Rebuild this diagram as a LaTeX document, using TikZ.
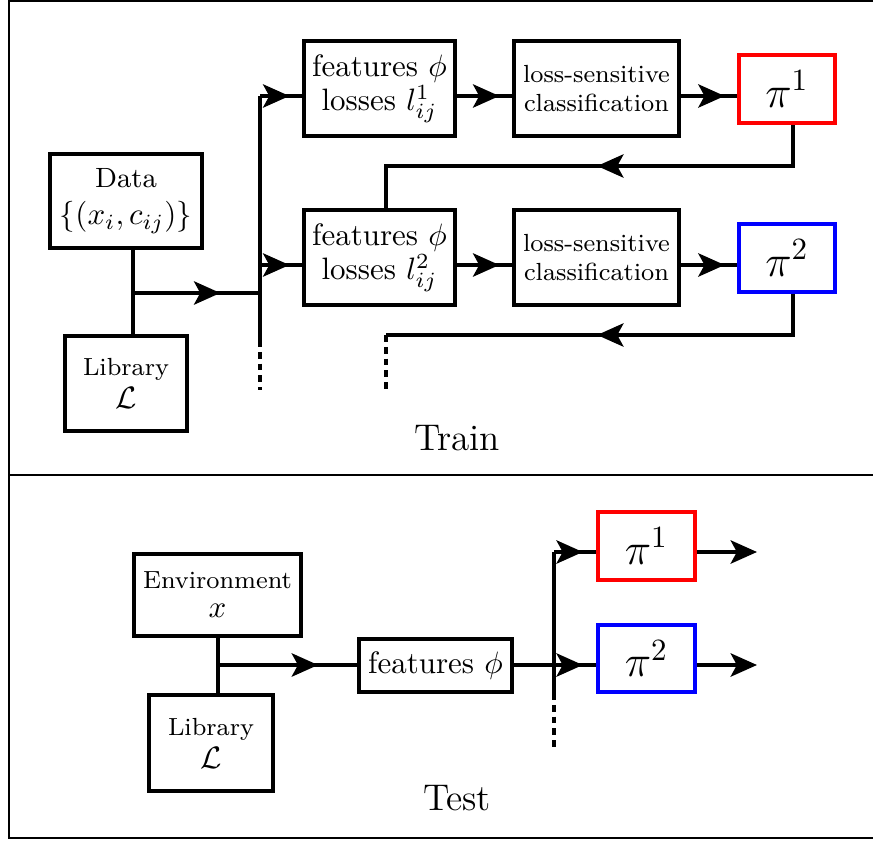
\documentclass[tikz,border=0pt]{standalone}
\usepackage{amsmath}
\usetikzlibrary{arrows.meta, decorations.markings}
\tikzset{
  blk/.style={draw, line width=1.3pt, align=center, inner sep=0pt},
  wire/.style={line width=1.3pt},
  midarr/.style={postaction={decorate}, decoration={markings,
      mark=at position #1 with {\arrow{Stealth[length=8.5pt, width=7.5pt, inset=2pt]}}}},
  endarr/.style={-{Stealth[length=8.5pt, width=7.5pt, inset=2pt]}},
  dashbus/.style={line width=1.3pt, dash pattern=on 2.2pt off 1.6pt},
}

\begin{document}
\begin{tikzpicture}[x=0.01136cm, y=-0.01136cm]
\clip (0,0) rectangle (873,844);
% frame
\draw[line width=0.8pt] (9,1) rectangle (900,838);
\draw[line width=0.8pt] (9,475) -- (900,475);

% train
\node[blk, minimum width=1.73cm, minimum height=1.07cm] (data) at (126,201)
  {{\small Data}\\ $\{(x_i,c_{ij})\}$};
\node[blk, minimum width=1.39cm, minimum height=1.08cm] (lib) at (126,383.5)
  {{\footnotesize Library}\\[-1.3pt] $\mathcal{L}$};
\node[blk, minimum width=1.72cm, minimum height=1.08cm] (feat1) at (379.5,88.5)
  {features $\phi$\\[-1pt] losses $l^1_{ij}$};
\node[blk, minimum width=1.72cm, minimum height=1.08cm] (feat2) at (379.5,257.5)
  {features $\phi$\\[-1pt] losses $l^2_{ij}$};
\node[blk, minimum width=1.88cm, minimum height=1.08cm, font=\footnotesize] (cls1) at (596.5,88.5)
  {loss-sensitive\\ classification};
\node[blk, minimum width=1.88cm, minimum height=1.08cm, font=\footnotesize] (cls2) at (596.5,257.5)
  {loss-sensitive\\ classification};
\node[blk, draw=red, minimum width=1.09cm, minimum height=0.77cm, font=\Large] (pol1) at (787,89) {$\pi^1$};
\node[blk, draw=blue, minimum width=1.09cm, minimum height=0.77cm, font=\Large] (pol2) at (787,258) {$\pi^2$};
\node[font=\large] (train) at (457,438) {Train};

\coordinate (jn) at (133,293);
\coordinate (bus1) at (260,96);
\coordinate (bus2) at (260,265);
\coordinate (busend) at (260,340);
\coordinate (busdash) at (260,390);
\coordinate (fb1) at (793,166);
\coordinate (fb1b) at (386,166);
\coordinate (fb2) at (793,335);
\coordinate (fb2b) at (386,335);
\coordinate (fbdash) at (386,390);

\draw[wire] (data.south -| jn) -- (lib.north -| jn);
\draw[wire, midarr=-0.45cm] (jn) -- (jn -| bus1);
\draw[wire] (bus1) -- (busend);
\draw[dashbus] (busend) -- (busdash);
\draw[wire, midarr=-0.14cm] (bus1) -- (feat1.west |- bus1);
\draw[wire, midarr=-0.14cm] (bus2) -- (feat2.west |- bus2);
\draw[wire, midarr=-0.14cm] (feat1.east |- bus1) -- (cls1.west |- bus1);
\draw[wire, midarr=-0.14cm] (feat2.east |- bus2) -- (cls2.west |- bus2);
\draw[wire, midarr=-0.14cm] (cls1.east |- bus1) -- (pol1.west |- bus1);
\draw[wire, midarr=-0.14cm] (cls2.east |- bus2) -- (pol2.west |- bus2);
% feedback
\draw[wire, midarr=2.69cm] (pol1.south -| fb1) -- (fb1) -- (fb1b) -- (fb1b |- feat2.north);
\draw[wire, midarr=2.69cm] (pol2.south -| fb2) -- (fb2) -- (fb2b);
\draw[dashbus] (fb2b) -- (fbdash);

% test
\node[blk, minimum width=1.90cm, minimum height=0.93cm] (env) at (217.5,595)
  {{\footnotesize Environment}\\[-2.6pt] $x$};
\node[blk, minimum width=1.41cm, minimum height=1.09cm] (libt) at (211,743)
  {{\footnotesize Library}\\[-1.3pt] $\mathcal{L}$};
\node[blk, minimum width=1.74cm, minimum height=0.60cm] (featt) at (435.5,665.5) {features $\phi$};
\node[blk, draw=red, minimum width=1.10cm, minimum height=0.77cm, font=\Large] (polt1) at (646.5,546) {$\pi^1$};
\node[blk, draw=blue, minimum width=1.10cm, minimum height=0.77cm, font=\Large] (polt2) at (646.5,658.5) {$\pi^2$};
\node[font=\large] (test) at (457,798) {Test};

\coordinate (jt) at (218,665);
\coordinate (tbus1) at (554,552);
\coordinate (tbusend) at (554,693);
\coordinate (tbusdash) at (554,750);
\coordinate (out1) at (757,552);
\coordinate (out2) at (757,665);

\draw[wire] (env.south -| jt) -- (libt.north -| jt);
\draw[wire, midarr=-0.44cm] (jt) -- (featt.west |- jt);
\draw[wire, midarr=-0.15cm] (featt.east |- jt) -- (polt2.west |- jt);
\draw[wire] (tbus1) -- (tbusend);
\draw[dashbus] (tbusend) -- (tbusdash);
\draw[wire, midarr=-0.15cm] (tbus1) -- (polt1.west |- tbus1);
\draw[wire, endarr] (polt1.east |- tbus1) -- (out1);
\draw[wire, endarr] (polt2.east |- jt) -- (out2);
\end{tikzpicture}
\end{document}
